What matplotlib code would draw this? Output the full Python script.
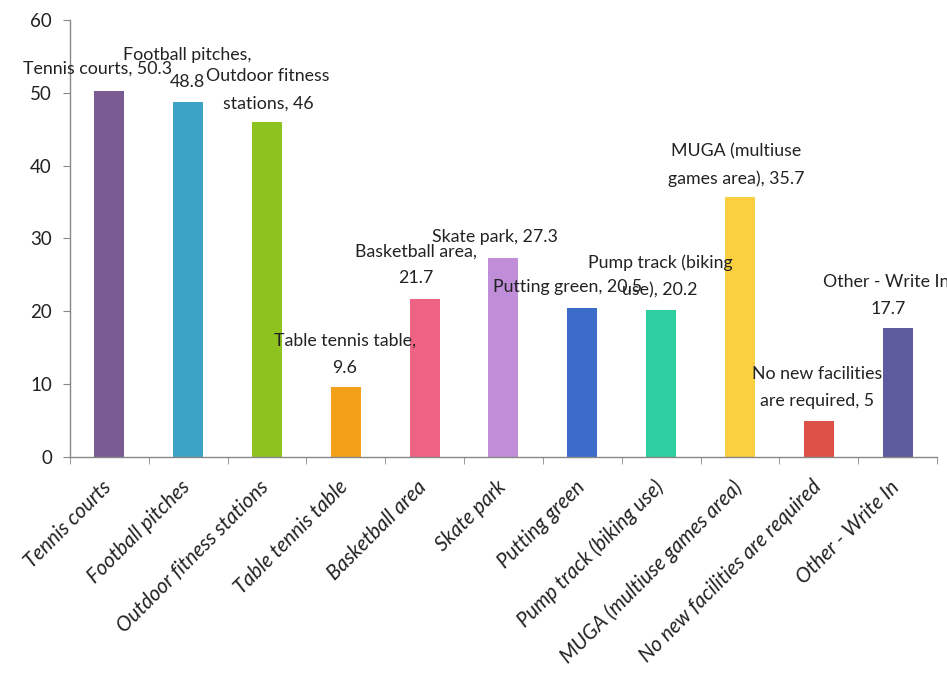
import matplotlib
matplotlib.use("Agg")
import matplotlib.pyplot as plt
import numpy as np

categories = ["Tennis courts", "Football pitches", "Outdoor fitness stations",
              "Table tennis table", "Basketball area", "Skate park", "Putting green",
              "Pump track (biking use)", "MUGA (multiuse games area)",
              "No new facilities are required", "Other - Write In"]
values = [50.3, 48.8, 46, 9.6, 21.7, 27.3, 20.5, 20.2, 35.7, 5, 17.7]
bar_labels = ["Tennis courts, 50.3", "Football pitches,\n48.8", "Outdoor fitness\nstations, 46",
              "Table tennis table,\n9.6", "Basketball area,\n21.7", "Skate park, 27.3",
              "Putting green, 20.5", "Pump track (biking\nuse), 20.2",
              "MUGA (multiuse\ngames area), 35.7", "No new facilities\nare required, 5",
              "Other - Write In,\n17.7"]
colors = ["#7B5C92", "#3DA3C4", "#8DC21F", "#F4A11A", "#EE6384", "#C08ED8",
          "#3C6CCA", "#2DCFA0", "#FAD040", "#DD5248", "#5E5A9E"]
label_offsets = [(-12, 22), (-1, 33.5), (1, 32), (-1, 33), (-9, 34), (-9, 21),
                 (-15, 21), (-1, 33), (-4, 32), (-2, 33), (-9, 33)]
yticks = [0, 10, 20, 30, 40, 50, 60]

plt.rcParams['font.family'] = ['Lato', 'DejaVu Sans']

fig = plt.figure(figsize=(9.47, 6.73), dpi=100)
ax = fig.add_axes([0.0739, 0.321, 0.9155, 0.6493])

x = np.arange(len(categories))
ax.bar(x, values, width=0.38, color=colors, zorder=2)

for i, (v, lab, off) in enumerate(zip(values, bar_labels, label_offsets)):
    ax.annotate(lab, xy=(i, v), xytext=off, textcoords='offset pixels',
                ha='center', va='center', fontsize=12.8, color='#222222',
                linespacing=1.85, multialignment='center', zorder=3,
                annotation_clip=False)

ax.set_xlim(-0.5, len(categories) - 0.5)
ax.set_ylim(0, 60)
ax.set_yticks(yticks)
ax.set_yticklabels([str(t) for t in yticks], fontsize=13.5, color='#222222')

# category labels, rotated, placed at each category position below the axis
ax.set_xticks(x)
ax.set_xticklabels([])
ax.tick_params(axis='x', length=0)
for i, cat in enumerate(categories):
    ax.annotate(cat, xy=(i, 0), xycoords=('data', 'axes fraction'),
                xytext=(-8, -20), textcoords='offset pixels',
                rotation=45, ha='right', va='top', rotation_mode='anchor',
                fontsize=14.8, style='italic', color='#222222',
                annotation_clip=False)
ax.set_xticks(np.arange(-0.5, len(categories)), minor=True)
ax.tick_params(axis='x', which='minor', length=5, color='#888888', direction='out')
ax.tick_params(axis='y', length=5, color='#888888', direction='out', pad=8)

for s in ['top', 'right']:
    ax.spines[s].set_visible(False)
for s in ['left', 'bottom']:
    ax.spines[s].set_color('#888888')
    ax.spines[s].set_linewidth(1)

fig.savefig("out.png", dpi=100)
